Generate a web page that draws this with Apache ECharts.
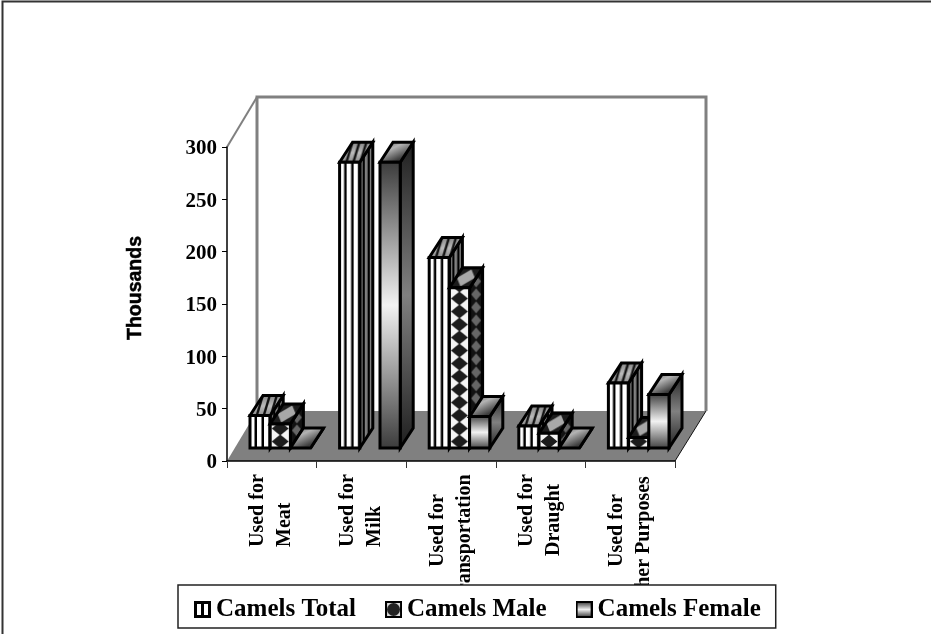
<!DOCTYPE html>
<html><head><meta charset="utf-8">
<style>html,body{margin:0;padding:0;background:#fff}#c{width:931px;height:634px}</style>
<script src="https://cdn.jsdelivr.net/npm/echarts@6/dist/echarts.min.js"></script>
</head><body><div id="c"></div>
<script>
const categories = ['Meat', 'Milk', 'Transportation', 'Draught', 'Other Purposes'];
const categoryPrefix = 'Used for';
const camelsTotal = [31, 273, 182, 21, 62];
const camelsMale = [23, null, 153, 14, 10];
const camelsFemale = [0, 273, 30, 0, 51];
const yTicks = [0, 50, 100, 150, 200, 250, 300];

// label shifts along the rotated text (prefix, second line)
const labelShift = [[63, 63], [63, 63], [43, 6], [63, 54], [43, 0]];

const DX = 13, DY = 20, BW = 20.2;
const DEPTH_X = 30, DEPTH_Y = 50;
const BASE_UP = 13, GROUP_OFF = 23;

function tile(w, h, draw) {
  const c = document.createElement('canvas');
  c.width = w; c.height = h;
  draw(c.getContext('2d'));
  return c;
}
function pat(c) { return { image: c, repeat: 'repeat' }; }
function diamond(g, cx, cy, hw, hh) {
  g.beginPath();
  g.moveTo(cx - hw, cy); g.lineTo(cx, cy - hh); g.lineTo(cx + hw, cy); g.lineTo(cx, cy + hh);
  g.closePath(); g.fill();
}
const STRIPE = 7;
const totalFront = pat(tile(STRIPE, 4, g => {
  g.fillStyle = '#fff'; g.fillRect(0, 0, STRIPE, 4);
  g.fillStyle = '#000'; g.fillRect(4.5, 0, 2.5, 4);
}));
const totalSide = pat(tile(5, 4, g => {
  g.fillStyle = '#808080'; g.fillRect(0, 0, 5, 4);
  g.fillStyle = '#000'; g.fillRect(2.8, 0, 2.2, 4);
}));
const totalTop = pat(tile(34, 21, g => {
  const gr = g.createLinearGradient(0, 0, 0, 21);
  gr.addColorStop(0, '#888'); gr.addColorStop(0.5, '#bbb'); gr.addColorStop(1, '#888');
  g.fillStyle = gr; g.fillRect(0, 0, 34, 21);
  g.setTransform(1, 0, -0.3, 1, 7, 0);
  g.fillStyle = '#111';
  for (let x = 4.5; x < 28; x += STRIPE) g.fillRect(x, -2, 2.5, 25);
}));
const maleFront = pat(tile(20, 13, g => {
  g.fillStyle = '#f4f4f4'; g.fillRect(0, 0, 20, 13);
  g.fillStyle = '#1c1c1c'; diamond(g, 10, 6.5, 8.5, 7);
}));
const maleSide = pat(tile(13, 13, g => {
  g.fillStyle = '#121212'; g.fillRect(0, 0, 13, 13);
  g.fillStyle = '#666';
  diamond(g, 6.5, 6.5, 5, 6);
}));
const maleTop = pat(tile(34, 21, g => {
  g.fillStyle = '#1c1c1c'; g.fillRect(0, 0, 34, 21);
  g.setTransform(1, 0, -0.65, 1, 13, 0);
  g.fillStyle = '#a8a8a8';
  diamond(g, 10, 10, 9, 8.5);
}));
function vGrad(a, b) {
  return { type: 'linear', x: 0, y: 0, x2: 0, y2: 1, colorStops: [
    { offset: 0, color: a }, { offset: 0.5, color: b }, { offset: 1, color: a }] };
}
const femaleFront = vGrad('#3a3a3a', '#f2f2f2');
const femaleSide = vGrad('#1e1e1e', '#808080');
const femaleTop = { type: 'linear', x: 0, y: 0, x2: 0.3, y2: 1, colorStops: [
  { offset: 0, color: '#3c3c3c' }, { offset: 0.5, color: '#b4b4b4' }, { offset: 1, color: '#3c3c3c' }] };

function barItem(slot, faces) {
  return function (params, api) {
    const v = api.value(1);
    if (v == null || isNaN(v)) return;
    const i = api.value(0);
    const bandW = api.size([1, 0])[0];
    const bandLeft = api.coord([i, 0])[0] - bandW / 2;
    const x = bandLeft + GROUP_OFF + slot * BW;
    const yBase = api.coord([i, 0])[1] - BASE_UP;
    const yTop = api.coord([i, v])[1] - BASE_UP;
    const h = yBase - yTop;
    const line = { stroke: '#000', lineWidth: 3, lineJoin: 'miter' };
    const kids = [];
    kids.push({ type: 'polygon', x: x + BW, y: yTop,
      shape: { points: [[0, 0], [DX, -DY], [DX, h - DY], [0, h]] },
      style: Object.assign({ fill: faces.side }, line) });
    kids.push({ type: 'polygon', x: x, y: yTop - DY,
      shape: { points: [[0, DY], [DX, 0], [DX + BW, 0], [BW, DY]] },
      style: Object.assign({ fill: faces.top }, line) });
    if (h > 0) kids.push({ type: 'rect', x: x, y: yBase,
      shape: { x: 0, y: -h, width: BW, height: h },
      style: Object.assign({ fill: faces.front }, line) });
    return { type: 'group', children: kids };
  };
}

function sceneItem(params, api) {
  const cs = params.coordSys;
  const L = cs.x, R = cs.x + cs.width, T = cs.y, B = cs.y + cs.height;
  const grey = '#808080';
  return { type: 'group', silent: true, children: [
    { type: 'polygon', shape: { points: [[L, B], [L + DEPTH_X, B - DEPTH_Y], [R + DEPTH_X + 1, B - DEPTH_Y], [R, B]] },
      style: { fill: grey } },
    { type: 'line', shape: { x1: R, y1: B, x2: R + DEPTH_X + 1, y2: B - DEPTH_Y }, style: { stroke: '#111', lineWidth: 1 } },
    { type: 'line', shape: { x1: L, y1: T, x2: L + DEPTH_X, y2: T - DEPTH_Y }, style: { stroke: grey, lineWidth: 2 } },
    { type: 'polyline', shape: { points: [[L + DEPTH_X, B - DEPTH_Y], [L + DEPTH_X, T - DEPTH_Y], [R + DEPTH_X + 1, T - DEPTH_Y], [R + DEPTH_X + 1, B - DEPTH_Y]] },
      style: { fill: null, stroke: grey, lineWidth: 3 } }
  ] };
}

function icon(draw) {
  return 'image://' + tile(17, 17, draw).toDataURL();
}
const iconTotal = icon(g => {
  g.fillStyle = '#000'; g.fillRect(0, 0, 17, 17);
  g.fillStyle = '#fff'; g.fillRect(3, 3, 4, 11); g.fillRect(10, 3, 4, 11);
});
const iconMale = icon(g => {
  g.fillStyle = '#000'; g.fillRect(0, 0, 17, 17);
  g.fillStyle = '#ddd'; g.fillRect(2, 2, 13, 13);
  g.fillStyle = '#222'; g.beginPath(); g.arc(8.5, 8.5, 6.5, 0, Math.PI * 2); g.fill();
});
const iconFemale = icon(g => {
  const gr = g.createLinearGradient(0, 2, 0, 15);
  gr.addColorStop(0, '#555'); gr.addColorStop(0.5, '#f0f0f0'); gr.addColorStop(1, '#555');
  g.fillStyle = '#000'; g.fillRect(0, 0, 17, 17);
  g.fillStyle = gr; g.fillRect(2, 2, 13, 13);
});

const serif = '"Liberation Serif"';
function axisText(name, i) {
  return '{p' + i + '|' + categoryPrefix + '}\n{q' + i + '|' + name + '}';
}
const rich = {};
labelShift.forEach((s, i) => {
  rich['p' + i] = { padding: [0, 0, 0, s[0]], fontFamily: serif, fontWeight: 'bold', fontSize: 20, lineHeight: 27, color: '#000' };
  rich['q' + i] = { padding: [0, 0, 0, s[1]], fontFamily: serif, fontWeight: 'bold', fontSize: 20, lineHeight: 27, color: '#000' };
});

function barSeries(name, data, slot, faces) {
  return { name, type: 'custom', coordinateSystem: 'cartesian2d', z: 3 + slot,
    renderItem: barItem(slot, faces), clip: false,
    encode: { x: 0, y: 1 },
    data: data.map((v, i) => [i, v]) };
}

const chart = echarts.init(document.getElementById('c'), null, { renderer: 'canvas' });
chart.setOption({
  animation: false,
  backgroundColor: '#fff',
  grid: { left: 227, top: 147, width: 448, height: 314, containLabel: false },
  xAxis: {
    type: 'category', data: categories,
    axisLine: { lineStyle: { color: '#000', width: 1.5 } },
    axisTick: { show: true, interval: 0, alignWithLabel: false, length: 7, lineStyle: { color: '#333', width: 1 } },
    axisLabel: {
      interval: 0, rotate: 90, align: 'left', verticalAlign: 'middle', margin: 149,
      hideOverlap: false,
      formatter: (v) => axisText(v, categories.indexOf(v)),
      rich
    },
    z: 6
  },
  yAxis: {
    type: 'value', min: 0, max: 300, interval: 50, splitLine: { show: false },
    axisLine: { show: true, lineStyle: { color: '#000', width: 1.5 } },
    axisTick: { show: true, length: 5, lineStyle: { color: '#000', width: 1 } },
    axisLabel: { margin: 10, formatter: '{n|{value}}',
      rich: { n: { padding: [4, 0, 0, 0], fontFamily: serif, fontWeight: 'bold', fontSize: 21, color: '#000' } } },
    name: 'Thousands', nameLocation: 'middle', nameGap: 81, nameRotate: 90,
    nameTextStyle: { fontFamily: '"Liberation Sans"', fontWeight: 'bold', fontSize: 19.5, color: '#000', textBorderColor: '#000', textBorderWidth: 0.5, padding: [0, 0, 0, 32] },
    z: 6
  },
  legend: {
    left: 178, top: 585, itemWidth: 17, itemHeight: 17, itemGap: 29,
    padding: [12, 15, 6, 16], backgroundColor: '#fff', borderColor: '#222', borderWidth: 1.5,
    textStyle: { fontFamily: serif, fontWeight: 'bold', fontSize: 25, color: '#000' },
    data: [
      { name: 'Camels Total', icon: iconTotal },
      { name: 'Camels Male', icon: iconMale },
      { name: 'Camels Female', icon: iconFemale }
    ],
    z: 20, selectedMode: false
  },
  tooltip: { show: false },
  graphic: [
    { type: 'polyline', silent: true, z: 30, shape: { points: [[2.5, 634], [2.5, 1.5], [931, 1.5]] }, style: { fill: null, stroke: '#333', lineWidth: 2 } }
  ],
  series: [
    { name: 'scene', type: 'custom', coordinateSystem: 'cartesian2d', z: 1, silent: true, clip: false,
      renderItem: sceneItem, data: [[0, 0]] },
    barSeries('Camels Total', camelsTotal, 0, { front: totalFront, side: totalSide, top: totalTop }),
    barSeries('Camels Male', camelsMale, 1, { front: maleFront, side: maleSide, top: maleTop }),
    barSeries('Camels Female', camelsFemale, 2, { front: femaleFront, side: femaleSide, top: femaleTop })
  ]
});
</script></body></html>
